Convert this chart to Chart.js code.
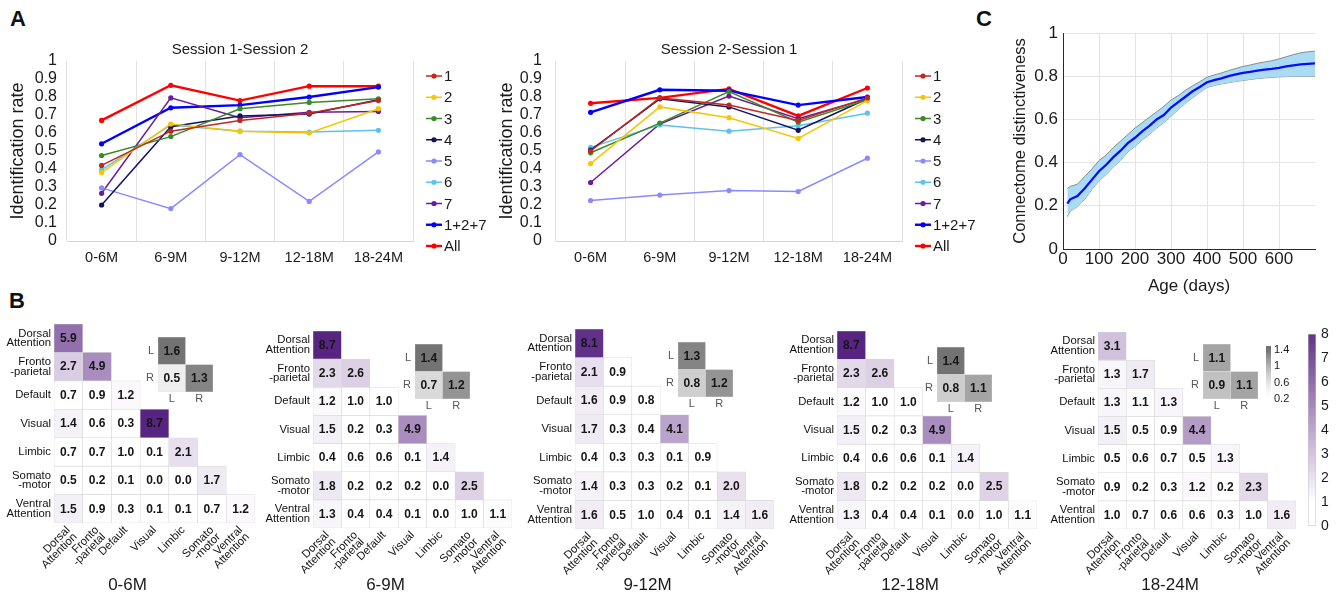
<!DOCTYPE html>
<html><head><meta charset="utf-8">
<script src="https://cdn.jsdelivr.net/npm/chart.js@4.4.1/dist/chart.umd.min.js"></script>
<style>
html,body{margin:0;padding:0;background:#fff;}
body{width:1338px;height:596px;position:relative;overflow:hidden;font-family:"Liberation Sans",Arial,Helvetica,sans-serif;}
.lab{position:absolute;font-weight:bold;font-size:22px;line-height:22px;color:#111;}
canvas{position:absolute;}
</style></head><body>
<div class="lab" style="left:10px;top:8px">A</div>
<div class="lab" style="left:9px;top:290px">B</div>
<div class="lab" style="left:976px;top:8px">C</div>
<script>
// ---------------- DATA ----------------
const ageGroups = ['0-6M','6-9M','9-12M','12-18M','18-24M'];
const seriesNames = ['1','2','3','4','5','6','7','1+2+7','All'];
const rateTicks = [0,0.1,0.2,0.3,0.4,0.5,0.6,0.7,0.8,0.9,1];
// Session 1-Session 2 identification rates
const s12_1   = [0.42,0.61,0.67,0.71,0.78];
const s12_2   = [0.38,0.65,0.61,0.60,0.735];
const s12_3   = [0.475,0.58,0.735,0.77,0.79];
const s12_4   = [0.20,0.635,0.695,0.705,0.785];
const s12_5   = [0.295,0.18,0.48,0.22,0.495];
const s12_6   = [0.395,0.645,0.61,0.605,0.615];
const s12_7   = [0.265,0.795,0.685,0.715,0.72];
const s12_127 = [0.54,0.74,0.755,0.80,0.855];
const s12_all = [0.67,0.865,0.78,0.86,0.86];
// Session 2-Session 1 identification rates
const s21_1   = [0.50,0.795,0.755,0.67,0.795];
const s21_2   = [0.43,0.745,0.685,0.57,0.78];
const s21_3   = [0.49,0.655,0.83,0.66,0.785];
const s21_4   = [0.505,0.79,0.745,0.615,0.79];
const s21_5   = [0.225,0.255,0.28,0.275,0.46];
const s21_6   = [0.52,0.645,0.61,0.64,0.71];
const s21_7   = [0.325,0.65,0.805,0.68,0.79];
const s21_127 = [0.715,0.84,0.835,0.755,0.80];
const s21_all = [0.765,0.795,0.845,0.695,0.85];

// Panel C: connectome distinctiveness vs age
const ageDays = [12,20,40,60,80,100,120,140,160,180,200,220,240,260,280,300,320,340,360,380,400,420,440,460,480,500,520,540,560,580,600,620,640,660,680,700];
const distMean = [0.21,0.23,0.245,0.28,0.32,0.36,0.39,0.425,0.455,0.49,0.515,0.545,0.57,0.60,0.62,0.655,0.68,0.705,0.73,0.75,0.772,0.782,0.79,0.80,0.808,0.815,0.82,0.826,0.83,0.834,0.839,0.845,0.85,0.855,0.857,0.859];
const distUpper = [0.28,0.29,0.30,0.335,0.37,0.41,0.435,0.47,0.50,0.53,0.56,0.585,0.61,0.635,0.66,0.69,0.71,0.735,0.755,0.775,0.795,0.806,0.815,0.826,0.836,0.845,0.852,0.86,0.866,0.872,0.88,0.89,0.90,0.908,0.913,0.916];
const distLower = [0.15,0.175,0.195,0.23,0.275,0.315,0.345,0.38,0.41,0.45,0.475,0.505,0.53,0.56,0.585,0.615,0.645,0.675,0.70,0.725,0.748,0.757,0.764,0.77,0.776,0.78,0.785,0.789,0.792,0.795,0.797,0.798,0.799,0.80,0.80,0.80];
const ageTicks = [0,100,200,300,400,500,600];
const distTicks = [0,0.2,0.4,0.6,0.8,1];

// Panel B: network connectivity matrices (lower triangle)
const networks = [['Dorsal','Attention'],['Fronto','-parietal'],'Default','Visual','Limbic',['Somato','-motor'],['Ventral','Attention']];
const m0_6   = [[5.9],[2.7,4.9],[0.7,0.9,1.2],[1.4,0.6,0.3,8.7],[0.7,0.7,1.0,0.1,2.1],[0.5,0.2,0.1,0.0,0.0,1.7],[1.5,0.9,0.3,0.1,0.1,0.7,1.2]];
const m6_9   = [[8.7],[2.3,2.6],[1.2,1.0,1.0],[1.5,0.2,0.3,4.9],[0.4,0.6,0.6,0.1,1.4],[1.8,0.2,0.2,0.2,0.0,2.5],[1.3,0.4,0.4,0.1,0.0,1.0,1.1]];
const m9_12  = [[8.1],[2.1,0.9],[1.6,0.9,0.8],[1.7,0.3,0.4,4.1],[0.4,0.3,0.3,0.1,0.9],[1.4,0.3,0.3,0.2,0.1,2.0],[1.6,0.5,1.0,0.4,0.1,1.4,1.6]];
const m12_18 = [[8.7],[2.3,2.6],[1.2,1.0,1.0],[1.5,0.2,0.3,4.9],[0.4,0.6,0.6,0.1,1.4],[1.8,0.2,0.2,0.2,0.0,2.5],[1.3,0.4,0.4,0.1,0.0,1.0,1.1]];
const m18_24 = [[3.1],[1.3,1.7],[1.3,1.1,1.3],[1.5,0.5,0.9,4.4],[0.5,0.6,0.7,0.5,1.3],[0.9,0.2,0.3,1.2,0.2,2.3],[1.0,0.7,0.6,0.6,0.3,1.0,1.6]];
// Hemisphere insets (L/R)
const hemis = ['L','R'];
const h0_6   = [[1.6],[0.5,1.3]];
const h6_9   = [[1.4],[0.7,1.2]];
const h9_12  = [[1.3],[0.8,1.2]];
const h12_18 = [[1.4],[0.8,1.1]];
const h18_24 = [[1.1],[0.9,1.1]];
const cbTicks = [0,1,2,3,4,5,6,7,8];
const grayTicks = [0.2,0.6,1,1.4];

// ---------------- STYLE ----------------
const FONT = '"Liberation Sans", Arial, Helvetica, sans-serif';
Chart.defaults.font.family = FONT;
Chart.defaults.color = '#1a1a1a';
const seriesColors = ['#c0281f','#f7c600','#3b8a28','#12125e','#8a8aff','#5cc3ee','#6a1c9c','#0000ff','#ff0000'];
const seriesWidths = [1.5,1.5,1.5,1.5,1.5,1.5,1.5,2.4,2.4];

function mk(left, top, w, h){
  const c = document.createElement('canvas');
  c.width = w; c.height = h;
  c.style.left = left+'px'; c.style.top = top+'px';
  c.style.width = w+'px'; c.style.height = h+'px';
  document.body.appendChild(c);
  return c;
}
const base = {responsive:false, animation:false, devicePixelRatio:1, events:[]};

function purple(v){
  const t = Math.max(0, Math.min(1, (v-1)/7.5));
  return `rgb(${Math.round(255-t*167)},${Math.round(255-t*219)},${Math.round(255-t*125)})`;
}
function gray(v){
  const t = Math.max(0, Math.min(1, (v-0.2)/1.2));
  const g = Math.round(255-140*Math.pow(t,1.5));
  return `rgb(${g},${g},${g})`;
}

// ---------------- PLUGINS ----------------
const sideLegend = {
  id:'sideLegend',
  afterDraw(chart, args, o){
    const {ctx, chartArea} = chart;
    ctx.save();
    chart.data.datasets.forEach((ds,i)=>{
      const y = chartArea.top + o.dy + i*o.step;
      const x0 = chartArea.right + o.dx;
      ctx.strokeStyle = ds.borderColor; ctx.lineWidth = ds.borderWidth;
      ctx.beginPath(); ctx.moveTo(x0,y); ctx.lineTo(x0+o.len,y); ctx.stroke();
      ctx.fillStyle = ds.borderColor;
      ctx.beginPath(); ctx.arc(x0+o.len/2, y, 2.6, 0, Math.PI*2); ctx.fill();
      ctx.fillStyle = '#1a1a1a'; ctx.font = `15px ${FONT}`;
      ctx.textAlign = 'left'; ctx.textBaseline = 'middle';
      ctx.fillText(ds.label, x0+o.len+2, y+1);
    });
    ctx.restore();
  }
};
const cellText = {
  id:'cellText',
  afterDatasetsDraw(chart, args, o){
    const ctx = chart.ctx;
    ctx.save();
    ctx.font = `bold ${o.size}px ${FONT}`; ctx.fillStyle = '#151515';
    ctx.textAlign = 'center'; ctx.textBaseline = 'middle';
    chart.data.datasets.forEach((ds,i)=>{
      const meta = chart.getDatasetMeta(i);
      meta.data.forEach((el,j)=>{
        if (ds.data[j] == null) return;
        const p = el.getProps(['x','y','base'], true);
        ctx.fillText(ds.vals[j].toFixed(1), p.x, (p.y+p.base)/2 + 0.5);
      });
    });
    ctx.restore();
  }
};

// ---------------- PANEL A ----------------
function lineChart(canvas, title, rates, L){
  const datasets = seriesNames.map((n,i)=>({
    label:n, data:rates[i], borderColor:seriesColors[i], backgroundColor:seriesColors[i],
    pointBackgroundColor:seriesColors[i], borderWidth:seriesWidths[i], pointRadius:2.6,
    pointBorderWidth:0, tension:0, fill:false
  }));
  return new Chart(canvas, {
    type:'line',
    data:{labels:ageGroups, datasets},
    options:{...base,
      layout:{padding:{top:0,left:0,bottom:0,right:L.padRight}},
      plugins:{legend:{display:false}, tooltip:{enabled:false},
        title:{display:true, text:title, color:'#1a1a1a', font:{size:15, weight:'normal'}, fullSize:false, padding:{top:11,bottom:2}},
        sideLegend:{dx:13, dy:15, step:21.25, len:16}
      },
      scales:{
        x:{type:'category', offset:true,
           grid:{offset:true, color:'#e2e2e2', drawTicks:false},
           border:{color:'#d6d6d6'},
           ticks:{font:{size:14.5}, color:'#1a1a1a', padding:8, maxRotation:0, autoSkip:false},
           afterFit:s=>{s.height = L.xH;}},
        y:{min:0, max:1, grid:{display:false, drawTicks:false}, border:{display:false},
           afterBuildTicks:s=>{s.ticks = rateTicks.map(v=>({value:v}));},
           ticks:{font:{size:16}, color:'#1a1a1a', padding:L.yTickPad, autoSkip:false, callback:v=>String(v)},
           title:{display:true, text:'Identification rate', color:'#1a1a1a', font:{size:18}, padding:{top:L.yTitlePad,bottom:0}},
           afterFit:s=>{s.width = L.yW;}}
      }
    },
    plugins:[sideLegend]
  });
}
lineChart(mk(0,30,500,250), 'Session 1-Session 2',
  [s12_1,s12_2,s12_3,s12_4,s12_5,s12_6,s12_7,s12_127,s12_all],
  {padRight:87, xH:39, yW:67, yTickPad:10, yTitlePad:7});
lineChart(mk(470,30,510,250), 'Session 2-Session 1',
  [s21_1,s21_2,s21_3,s21_4,s21_5,s21_6,s21_7,s21_127,s21_all],
  {padRight:78, xH:39, yW:86, yTickPad:14, yTitlePad:26});

// ---------------- PANEL C ----------------
new Chart(mk(960,0,378,300), {
  type:'line',
  data:{datasets:[
    {label:'mean', data:ageDays.map((a,i)=>({x:a,y:distMean[i]})), borderColor:'#0a0aff', borderWidth:2.3, pointRadius:0, fill:false, tension:0},
    {label:'upper', data:ageDays.map((a,i)=>({x:a,y:distUpper[i]})), borderColor:'#808080', borderWidth:0.9, pointRadius:0, fill:'+1', backgroundColor:'#a9dcf3', tension:0},
    {label:'lower', data:ageDays.map((a,i)=>({x:a,y:distLower[i]})), borderColor:'#808080', borderWidth:0.9, pointRadius:0, fill:false, tension:0}
  ]},
  options:{...base,
    layout:{padding:{top:33,right:23,left:0,bottom:0}},
    plugins:{legend:{display:false}, tooltip:{enabled:false}},
    scales:{
      x:{type:'linear', min:0, max:700,
         afterBuildTicks:s=>{s.ticks = ageTicks.map(v=>({value:v}));},
         grid:{color:'#e4e4e4', drawTicks:false}, border:{color:'#2a2a2a'},
         ticks:{font:{size:17}, color:'#1a1a1a', padding:0, maxRotation:0, autoSkip:false},
         title:{display:true, text:'Age (days)', font:{size:17}, color:'#1a1a1a', padding:{top:0,bottom:3}},
         afterFit:s=>{s.height = 51;}},
      y:{min:0, max:1,
         afterBuildTicks:s=>{s.ticks = distTicks.map(v=>({value:v}));},
         grid:{color:'#e4e4e4', drawTicks:false}, border:{color:'#2a2a2a'},
         ticks:{font:{size:17}, color:'#1a1a1a', padding:5, autoSkip:false, callback:v=>String(v)},
         title:{display:true, text:'Connectome distinctiveness', font:{size:16.5}, color:'#1a1a1a', padding:{top:51,bottom:0}},
         afterFit:s=>{s.width = 103;}}
    }
  }
});

// ---------------- PANEL B ----------------
const panels = [
  {M:m0_6,   H:h0_6,   title:'0-6M',   x0:54,   y0:324, x1:255,  y1:523, tx:135,  il:158,  it:337},
  {M:m6_9,   H:h6_9,   title:'6-9M',   x0:313,  y0:331, x1:512,  y1:528, tx:417,  il:415,  it:344},
  {M:m9_12,  H:h9_12,  title:'9-12M',  x0:575,  y0:329, x1:774,  y1:529, tx:667,  il:678,  it:342},
  {M:m12_18, H:h12_18, title:'12-18M', x0:837,  y0:331, x1:1037, y1:529, tx:929,  il:937,  it:347},
  {M:m18_24, H:h18_24, title:'18-24M', x0:1098, y0:332, x1:1296, y1:529, tx:1200, il:1203, it:344}
];

function matrixChart(canvas, M, rowLabels, colorFn, o){
  const n = rowLabels.length;
  const datasets = M.map((row,i)=>({
    label:'r'+i,
    data: rowLabels.map((_,j)=> j<row.length ? [i-0.5, i+0.5] : null),
    vals: row,
    backgroundColor: rowLabels.map((_,j)=> j<row.length ? colorFn(row[j]) : 'rgba(0,0,0,0)'),
    borderColor:o.border, borderWidth:o.bw, borderSkipped:false,
    grouped:false, barPercentage:1, categoryPercentage:1
  }));
  const rows = rowLabels.map((_,i)=>i);
  return new Chart(canvas, {
    type:'bar',
    data:{labels:rowLabels, datasets},
    options:{...base,
      layout:{padding:o.pad},
      plugins:{legend:{display:false}, tooltip:{enabled:false},
        title: o.title ? {display:true, text:o.title, position:'bottom', color:'#1a1a1a', font:{size:17, weight:'normal'}, padding:{top:0,bottom:0}} : {display:false},
        cellText:{size:o.textSize}
      },
      scales:{
        x:{type:'category', offset:true, grid:{display:false, drawTicks:false}, border:{display:false},
           ticks:{font:{size:o.labelSize, lineHeight:0.85}, color:o.labelColor, padding:o.xPad, autoSkip:false,
                  minRotation:o.rot, maxRotation:o.rot},
           afterFit:s=>{s.height = o.xH; s.paddingLeft = 0; s.paddingRight = 0;}},
        y:{type:'linear', reverse:true, min:-0.5, max:n-0.5,
           grid:{display:false, drawTicks:false}, border:{display:false},
           afterBuildTicks:s=>{s.ticks = rows.map(v=>({value:v}));},
           ticks:{font:{size:o.labelSize, lineHeight:0.85}, color:o.labelColor, padding:o.yPad, autoSkip:false,
                  callback:v=>rowLabels[v]},
           afterFit:s=>{s.width = o.yW; s.paddingTop = 0; s.paddingBottom = 0;}}
      }
    },
    plugins:[cellText]
  });
}

panels.forEach(p=>{
  const left = p.x0 - 54;
  const w = Math.round(2*(p.tx - left));
  const titleH = 17*1.2;
  matrixChart(mk(left, 300, w, 296), p.M, networks, purple, {
    pad:{top:p.y0-300, left:0, bottom:0, right:w-54-(p.x1-p.x0)},
    xH: 596 - titleH - p.y1, yW:54, xPad:2, yPad:3, rot:45,
    labelSize:11.3, labelColor:'#111', textSize:12, border:'#d9d9d9', bw:0.6, title:p.title
  });
  const c = 27.5;
  matrixChart(mk(p.il-18, p.it-2, 18+2*c+2, 2+2*c+18), p.H, hemis, gray, {
    pad:{top:2, left:0, bottom:0, right:2},
    xH:18, yW:18, xPad:2, yPad:4, rot:0,
    labelSize:11, labelColor:'#555', textSize:12, border:'#dedede', bw:0.5, title:null
  });
});

// ---------------- COLORBARS ----------------
function colorBar(canvas, lo, hi, ticks, colorFn, o){
  return new Chart(canvas, {
    type:'bar',
    data:{labels:[''], datasets:[{
      data:[[lo,hi]],
      backgroundColor:(ctx)=>{
        const ch = ctx.chart; if (!ch.chartArea) return null;
        const y = ch.scales.y;
        const g = ch.ctx.createLinearGradient(0, y.getPixelForValue(lo), 0, y.getPixelForValue(hi));
        for (let k=0; k<=40; k++){ const v = lo + (hi-lo)*k/40; g.addColorStop(k/40, colorFn(v)); }
        return g;
      },
      borderColor:o.border, borderWidth:o.bw, borderSkipped:false, barPercentage:1, categoryPercentage:1
    }]},
    options:{...base,
      layout:{padding:o.pad},
      plugins:{legend:{display:false}, tooltip:{enabled:false}},
      scales:{
        x:{display:false},
        y:{position:'right', min:lo, max:hi,
           afterBuildTicks:s=>{s.ticks = ticks.map(v=>({value:v}));},
           grid:{display:false, drawTicks:false}, border:{display:false},
           ticks:{font:{size:o.fs}, color:'#1a1a1a', padding:o.tp, autoSkip:false, callback:v=>String(v)},
           afterFit:s=>{s.width = o.yW; s.paddingTop = 0; s.paddingBottom = 0;}}
      }
    }
  });
}
colorBar(mk(1300,325,38,210), 0, 8, cbTicks, purple,
  {pad:{top:9,bottom:9,left:8,right:0}, yW:22, fs:14, tp:5, border:'#c4c4c4', bw:0.8});
colorBar(mk(1260,338,40,70), 0.17, 1.5, grayTicks, gray,
  {pad:{top:8,bottom:8,left:6,right:0}, yW:29, fs:11, tp:3, border:'rgba(0,0,0,0)', bw:0});
</script>
</body></html>
